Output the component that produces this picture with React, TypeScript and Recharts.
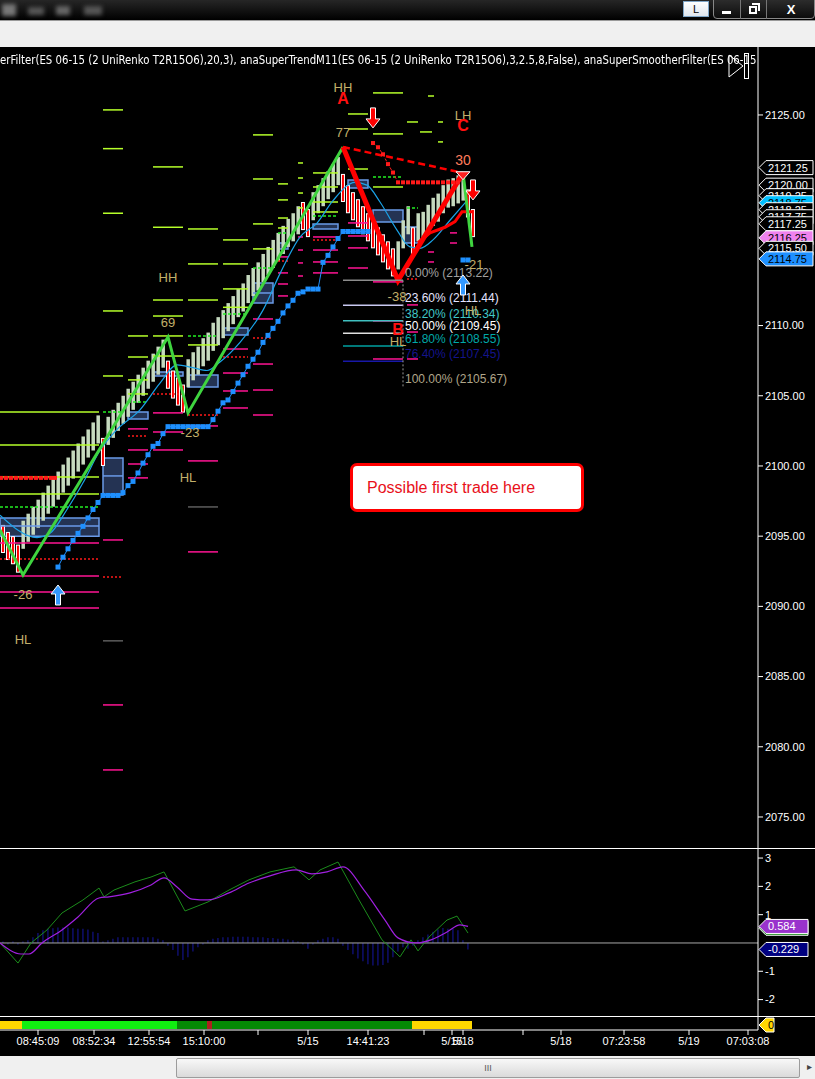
import React from "react";
import {
  ComposedChart,
  Bar,
  Line,
  Scatter,
  XAxis,
  YAxis,
  ReferenceLine,
  ReferenceArea,
} from "recharts";

// ---- axes ----
const X_DOMAIN: [number, number] = [-0.6, 151];
const PRICE_DOMAIN: [number, number] = [2072.79, 2129.84];
const PRICE_TICKS = [2075, 2080, 2085, 2090, 2095, 2100, 2105, 2110, 2125];
const OSC_DOMAIN: [number, number] = [-2.58, 3.32];
const OSC_TICKS = [3, 2, 1, -1, -2];

// ---- renko bricks (index = bar number) ----
const BRICK_DIRS = [
  "dddd",
  "uuuuuuuuuuuuuuuu",
  "d",
  "uuuuuuuuuuuu",
  "dddd",
  "uuuuuuuuuuuuuuuuuuuuuuu",
  "dd",
  "uuuuuu",
  "ddddddddddd",
  "uuu",
  "d",
  "uuuuuuuuuu",
  "dd",
].join("");

const BRICK_CLOSES = [
  2093.8, 2093.3, 2093.0, 2092.4, 2096.1, 2096.6, 2097.1, 2097.6, 2098.1, 2098.6,
  2099.1, 2099.6, 2100.1, 2100.6, 2101.1, 2101.6, 2102.1, 2102.6, 2103.1, 2103.6,
  2100.0, 2103.5, 2104.0, 2104.5, 2105.0, 2105.5, 2106.0, 2106.5, 2107.0, 2107.5,
  2108.0, 2108.5, 2109.0, 2105.5, 2104.8, 2104.3, 2103.8, 2107.6, 2108.1, 2108.5,
  2109.1, 2109.5, 2110.2, 2110.6, 2111.1, 2111.6, 2112.1, 2112.6, 2113.0, 2113.6,
  2114.1, 2114.5, 2115.1, 2115.6, 2116.1, 2116.6, 2117.1, 2117.6, 2118.0, 2118.5,
  2116.8, 2116.3, 2119.5, 2120.0, 2120.5, 2121.0, 2121.5, 2122.0, 2118.8, 2118.0,
  2117.5, 2117.0, 2116.5, 2116.0, 2115.5, 2115.0, 2114.5, 2114.0, 2113.5, 2116.0,
  2117.5, 2118.5, 2115.0, 2118.0, 2118.1, 2118.6, 2119.1, 2119.4, 2120.0, 2120.4,
  2120.5, 2120.7, 2120.9, 2117.7, 2116.3,
];
const BRICK_SIZE = 2;

// ---- zigzag ----
const ZIG_GREEN_A = [[-0.6, 2095.44], [4, 2092.24], [33, 2109.19], [37, 2103.78], [68, 2122.72]];
const ZIG_RED = [[68, 2122.72], [79, 2113.22], [92, 2120.87]];
const ZIG_GREEN_B = [[92, 2120.87], [93.8, 2115.6]];
const ZIG_AC = [[68, 2122.72], [92, 2120.87]];

// ---- super smoother ----
const SMOOTHER = [
  [-0.6, 2096.5], [6.8, 2094.9], [9.4, 2095.2], [12.8, 2096.9], [16, 2098.8], [19.4, 2101.1],
  [22.8, 2102.6], [27.4, 2104.0], [31.4, 2105.9], [34.8, 2107.2], [38, 2107.0], [40.8, 2106.8],
  [43.4, 2107.4], [47.4, 2108.8], [52, 2111.1], [55.4, 2113.7], [59.4, 2116.3], [62.8, 2117.3],
  [66, 2118.9], [70.4, 2120.2], [72.8, 2120.0], [75.4, 2118.8], [78.8, 2116.8], [81.4, 2115.6],
  [83.4, 2115.5], [86, 2116.1], [89.4, 2117.5], [92.8, 2118.9],
];
const RED_STEP = [[83, 2115.9], [85.4, 2116.6], [88.4, 2117.0], [90.4, 2117.4], [91.8, 2118.1], [94, 2118.1]];

// ---- super trend ----
const ST_BLUE = [
  [11, 2092.8], [12, 2093.5], [13, 2094.1], [14, 2094.7], [15, 2095.2], [16, 2095.7], [17, 2096.3],
  [18, 2096.9], [19, 2097.4], [20, 2097.9], [21, 2097.9], [22, 2097.9], [23, 2097.9], [24, 2098.1],
  [25, 2098.6], [26, 2098.9], [27, 2099.5], [28, 2100.2], [29, 2100.8], [30, 2101.4], [31, 2101.6],
  [32, 2102.3], [33, 2102.8], [34, 2102.8], [35, 2102.8], [36, 2102.8], [37, 2102.8], [38, 2102.8],
  [39, 2102.8], [40, 2102.8], [41, 2102.8], [42, 2103.3], [43, 2103.9], [44, 2104.5], [45, 2104.7],
  [46, 2105.3], [47, 2105.9], [48, 2106.5], [49, 2107.1], [50, 2107.6], [51, 2108.1], [52, 2108.8],
  [53, 2109.3], [54, 2109.8], [55, 2110.3], [56, 2110.9], [57, 2111.4], [58, 2111.8], [59, 2112.3],
  [60, 2112.4], [61, 2112.6], [62, 2112.6], [63, 2112.6], [64, 2114.5], [65, 2115.0], [66, 2115.6],
  [67, 2116.2], [68, 2116.7], [69, 2116.7], [70, 2116.7], [71, 2116.7], [72, 2116.7], [73, 2116.7],
];
const ST_BLUE_END = [[92, 2114.67], [93, 2114.67]];
const ST_RED = [
  [74, 2123.0], [75, 2122.7], [76, 2122.2], [77, 2121.5], [78, 2120.9], [79, 2120.2], [80, 2120.2],
  [81, 2120.2], [82, 2120.2], [83, 2120.2], [84, 2120.2], [85, 2120.2], [86, 2120.2], [87, 2120.2],
  [88, 2120.2], [89, 2120.2], [90, 2120.2], [91, 2120.2],
];
const ST_RED_LEFT = [
  [-0.4, 2099.15], [0.6, 2099.15], [1.6, 2099.15], [2.6, 2099.15], [3.6, 2099.15], [4.6, 2099.15],
  [5.6, 2099.15], [6.6, 2099.15], [7.6, 2099.15], [8.6, 2099.15], [9.6, 2099.15], [10.4, 2099.15],
];

// ---- level dashes [fromBar, toBar, price] ----
const LIME_LEVELS = [
  [-0.6, 19.2, 2103.85], [-0.6, 19.2, 2101.5], [-0.6, 19.2, 2099.22], [-0.6, 19.2, 2098.01],
  [20, 24, 2125.36], [20, 24, 2122.6], [20, 24, 2118.0], [20, 24, 2111.04], [20, 24, 2106.41],
  [25, 29, 2109.26], [25, 29, 2107.76], [25, 29, 2106.13], [25, 29, 2105.13],
  [30, 36, 2121.3], [30, 36, 2117.0], [30, 36, 2111.82], [30, 36, 2110.68], [30, 36, 2109.26], [30, 36, 2107.83],
  [37, 43, 2116.88], [37, 43, 2114.39], [37, 43, 2111.82], [37, 43, 2108.62],
  [44, 49, 2116.1], [44, 49, 2114.39], [44, 49, 2112.61], [44, 49, 2111.3],
  [50, 54, 2123.58], [50, 54, 2120.44], [50, 54, 2117.24], [50, 54, 2115.46],
  [55, 57, 2120.09], [55, 57, 2118.95], [55, 57, 2117.66], [55, 57, 2116.95],
  [59, 60, 2121.58], [59, 60, 2120.51], [59, 60, 2119.44], [59, 60, 2118.38],
  [62, 67, 2120.87], [62, 67, 2119.87], [62, 67, 2118.8], [62, 67, 2118.09],
  [69, 73, 2125.07], [69, 73, 2124.0], [69, 73, 2121.15],
  [74, 80, 2126.57], [74, 80, 2123.65], [74, 80, 2119.87],
  [80.8, 83, 2124.5], [83.4, 85.8, 2123.79], [85, 86.2, 2126.35], [87, 88, 2124.5], [87, 88, 2123.08],
];
const GREEN_DASH_LEVELS = [
  [-0.6, 19.2, 2097.08], [20, 24, 2103.85], [25, 29, 2104.56], [37, 43, 2109.26], [44, 49, 2110.83],
  [50, 54, 2114.1], [55, 57, 2116.6], [62, 67, 2117.81], [74, 80, 2120.58], [80.8, 83, 2118.38],
];
const MAGENTA_LEVELS = [
  [-0.6, 19.2, 2094.52], [-0.6, 19.2, 2092.17], [-0.6, 19.2, 2091.03], [-0.6, 19.2, 2089.89],
  [20, 24, 2094.73], [20, 24, 2082.98], [20, 24, 2078.35],
  [25, 29, 2102.64], [25, 29, 2101.14], [25, 29, 2100.14], [25, 29, 2099.15],
  [30, 36, 2103.78], [30, 36, 2102.42], [30, 36, 2101.14],
  [37, 43, 2102.85], [37, 43, 2100.36], [37, 43, 2093.88],
  [44, 49, 2108.33], [44, 49, 2106.62], [44, 49, 2105.34], [44, 49, 2104.13],
  [50, 54, 2110.47], [50, 54, 2107.26], [50, 54, 2105.41], [50, 54, 2103.63],
  [55, 57, 2114.89], [55, 57, 2113.75], [55, 57, 2112.96], [55, 57, 2112.11],
  [59, 60, 2116.31], [59, 60, 2115.38], [59, 60, 2114.46], [59, 60, 2113.53],
  [62, 67, 2116.31], [62, 67, 2115.38], [62, 67, 2114.53], [62, 67, 2113.75],
  [69, 73, 2117.31], [69, 73, 2116.38], [69, 73, 2115.53], [69, 73, 2114.1],
  [74, 80, 2113.11], [74, 80, 2110.33], [74, 80, 2107.62],
  [80.8, 83, 2111.47], [80.8, 83, 2109.54], [80.8, 83, 2107.62],
  [85, 86.2, 2115.24], [85, 86.2, 2114.53], [89.4, 90.8, 2116.6], [89.4, 90.8, 2115.88],
];
const RED_DASH_LEVELS = [
  [-0.6, 19.2, 2093.38], [20, 24, 2092.09], [25, 29, 2102.14], [30, 36, 2105.13], [37, 43, 2103.63],
  [44, 49, 2107.76], [50, 54, 2109.12], [55, 57, 2114.6], [62, 67, 2116.1], [80.8, 83, 2113.32],
];
const GREY_LEVELS = [[20, 24, 2087.54], [37, 43, 2097.08]];

// ---- zone boxes [fromBar, toBar, top, bottom, mid] ----
const BOXES = [
  [-0.6, 19.2, 2096.3, 2095.0, 2095.73],
  [20, 24, 2100.57, 2097.93, 2099.29],
  [25, 29, 2103.85, 2103.35, null],
  [30, 36, 2106.7, 2106.41, null],
  [37, 43, 2106.48, 2105.63, null],
  [44, 49, 2109.83, 2109.33, null],
  [50, 54, 2113.03, 2111.61, 2112.32],
  [55, 57, 2115.88, 2115.46, null],
  [59, 60, 2117.59, 2117.31, null],
  [62, 67, 2117.24, 2116.88, null],
  [69, 73, 2120.37, 2119.8, null],
  [74, 80, 2118.23, 2117.38, null],
  [80, 83, 2117.02, 2115.88, null],
];

// ---- fibonacci ----
const FIB_PCTS = ["0.00%", "23.60%", "38.20%", "50.00%", "61.80%", "76.40%", "100.00%"];
const FIB_PRICES = [2113.22, 2111.44, 2110.34, 2109.45, 2108.55, 2107.45, 2105.67];
const FIB_TEXT_COLORS = ["#a0a0a0", "#e4e4ff", "#40c8c8", "#ffffff", "#00a8a8", "#14148c", "#b0a68a"];
const FIB_LINE_COLORS = ["#8c8c8c", "#c8c8f0", "#40c0c0", "#e0e0e0", "#00a0a0", "#1818a8", null];

// ---- annotations ----
const SWING_TEXT = [
  { x: 68, y: 2126.92, text: "HH" }, { x: 68, y: 2123.72, text: "77" },
  { x: 92, y: 2124.93, text: "LH" },
  { x: 33, y: 2113.39, text: "HH" }, { x: 33, y: 2110.19, text: "69" },
  { x: 37.4, y: 2102.35, text: "-23" }, { x: 37, y: 2099.15, text: "HL" },
  { x: 4, y: 2090.81, text: "-26" }, { x: 4, y: 2087.61, text: "HL" },
  { x: 78.8, y: 2112.04, text: "-38" }, { x: 79, y: 2108.9, text: "HL" },
  { x: 94.2, y: 2114.32, text: "-21" }, { x: 94, y: 2111.1, text: "HL" },
];
const POINT_LETTERS = [
  { x: 68, y: 2126.14, text: "A" }, { x: 92, y: 2124.22, text: "C" }, { x: 79, y: 2109.69, text: "B" },
];
const SWING_COUNT_RED = [{ x: 92, y: 2121.79, text: "30" }];
const DOWN_ARROWS = [{ x: 74, y: 2124.79 }, { x: 94, y: 2119.66 }];
const UP_ARROWS = [{ x: 11, y: 2090.81 }, { x: 92, y: 2112.89 }];
const SELL_MARK = [{ x: 92, y: 2120.6 }];

// ---- right side price markers ----
const PRICE_FLAGS = [
  { v: 2121.25, fill: "#000", color: "#fff" },
  { v: 2120.0, fill: "#000", color: "#fff" },
  { v: 2119.25, fill: "#000", color: "#fff" },
  { v: 2118.75, fill: "#00bfff", color: "#000" },
  { v: 2118.25, fill: "#000", color: "#fff" },
  { v: 2117.75, fill: "#000", color: "#fff" },
  { v: 2117.25, fill: "#000", color: "#fff" },
  { v: 2116.25, fill: "#ee82ee", color: "#000" },
  { v: 2115.5, fill: "#000", color: "#fff" },
  { v: 2114.75, fill: "#1e90ff", color: "#000" },
];

// ---- oscillator ----
const OSC_GREEN = [
  [-0.6, 0], [3, -0.71], [5.6, 0], [8.8, 0.46], [11.8, 1.06], [16, 1.52], [19.2, 1.94], [20.2, 1.63],
  [22.2, 1.87], [26.4, 2.16], [29.6, 2.33], [32.2, 2.51], [36.4, 1.13], [41, 1.45], [45.2, 1.87],
  [49.2, 2.23], [53.4, 2.51], [58.2, 2.69], [61.2, 2.23], [63.4, 2.58], [67, 2.86], [71.2, 1.52],
  [75.8, 0.11], [79.4, -0.49], [81.6, 0.11], [83, -0.28], [85.2, 0.21], [88.8, 0.81], [90.8, 0.95],
  [93, 0.35],
];
const OSC_PURPLE = [
  [-0.6, 0], [3.6, -0.39], [5.2, -0.39], [7.8, 0], [11.8, 0.46], [15, 0.92], [19.2, 1.59], [21.2, 1.63],
  [25.4, 1.77], [29.6, 2.05], [32.2, 2.3], [34.8, 1.98], [37.8, 1.55], [41, 1.52], [45.2, 1.77],
  [49.2, 2.12], [53.4, 2.37], [58.6, 2.58], [61.8, 2.44], [64.8, 2.51], [68, 2.69], [72.2, 1.87],
  [76.4, 0.81], [79, 0.18], [82.6, 0], [85.6, 0.11], [88.8, 0.39], [91.4, 0.64], [93, 0.584],
];
const OSC_HIST = [
  0.05, -0.05, 0.05, -0.05, 0.05, 0.1, 0.2, 0.35, 0.45, 0.5,
  0.52, 0.55, 0.55, 0.55, 0.52, 0.5, 0.5, 0.48, 0.4, 0.35,
  0.05, 0.1, 0.15, 0.2, 0.2, 0.2, 0.2, 0.2, 0.2, 0.2,
  0.2, 0.15, 0.1, -0.1, -0.25, -0.45, -0.6, -0.5, -0.3, -0.15,
  -0.05, 0.1, 0.15, 0.18, 0.2, 0.2, 0.22, 0.22, 0.22, 0.22,
  0.2, 0.2, 0.2, 0.18, 0.18, 0.15, 0.15, 0.12, 0.1, 0.05,
  -0.05, -0.2, -0.05, 0.1, 0.15, 0.2, 0.2, 0.15, -0.1, -0.25,
  -0.4, -0.55, -0.65, -0.75, -0.8, -0.8, -0.78, -0.7, -0.5, -0.3,
  -0.15, -0.2, -0.1, 0.1, 0.2, 0.3, 0.4, 0.48, 0.53, 0.5,
  0.5, 0.45, 0.1, -0.229,
];
const OSC_FLAGS = [
  { v: 0.52, fill: "#008000", color: "#fff", label: "0.535" },
  { v: 0.584, fill: "#9932cc", color: "#fff", label: "0.584" },
  { v: -0.229, fill: "#000080", color: "#fff", label: "-0.229" },
];

// ---- state strip and time axis ----
const STRIP = [
  { from: -0.6, to: 3.8, color: "#ffd700" },
  { from: 3.8, to: 34.8, color: "#11ee11" },
  { from: 34.8, to: 40.8, color: "#058a05" },
  { from: 40.8, to: 41.8, color: "#b02020" },
  { from: 41.8, to: 81.8, color: "#058a05" },
  { from: 81.8, to: 93.8, color: "#ffd700" },
];
const TIME_TICKS = [7, 18.2, 29.2, 40.2, 51, 61, 73, 84.2, 89.8, 92, 104, 111.6, 124.2, 137.2, 149];
const TIME_LABELS = [
  "08:45:09", "08:52:34", "12:55:54", "15:10:00", "", "5/15", "14:41:23", "",
  "5/15", "5/18", "", "5/18", "07:23:58", "5/19", "07:03:08",
];

const INDICATOR_TEXT =
  "erFilter(ES 06-15 (2 UniRenko T2R15O6),20,3), anaSuperTrendM11(ES 06-15 (2 UniRenko T2R15O6),3,2.5,8,False), anaSuperSmootherFilter(ES 06-15";

// ---- helpers ----
const pts = (arr: number[][]) => arr.map(([x, y]) => ({ x, y }));
const bricks = BRICK_CLOSES.map((c, i) => {
  const up = BRICK_DIRS[i] === "u";
  return { x: i, up, body: up ? [c - BRICK_SIZE, c] : [c, c + BRICK_SIZE] };
});
const histRows = OSC_HIST.map((h, i) => ({ x: i, h }));
const fibRows = FIB_PRICES.map((p, i) => ({ x: 80.4, y: p, text: `${FIB_PCTS[i]} (${p.toFixed(2)})`, i }));

const FONT = "Arial, 'Liberation Sans', sans-serif";

const brickShape = (p: any) => {
  if (p.x == null || p.height == null) return <g />;
  const cx = p.x + p.width / 2;
  const top = Math.min(p.y, p.y + p.height);
  const h = Math.abs(p.height);
  if (p.payload.up) {
    return <rect x={cx - 1.5} y={top} width={3.5} height={h} fill="#c6dabf" />;
  }
  return (
    <g>
      <rect x={cx - 2} y={top} width={4} height={h} fill="#ffffff" />
      <rect x={cx - 1} y={top + 1} width={2} height={Math.max(h - 2, 0)} fill="#ff0000" />
    </g>
  );
};

const textShape = (color: string, size: number, bold = false) => (p: any) =>
  p.cx == null ? <g /> : (
    <text
      x={p.cx}
      y={p.cy}
      fill={color}
      fontSize={size}
      fontWeight={bold ? "bold" : "normal"}
      fontFamily={FONT}
      textAnchor="middle"
      dominantBaseline="central"
    >
      {p.payload.text}
    </text>
  );

const fibTextShape = (p: any) =>
  p.cx == null ? <g /> : (
    <text x={p.cx} y={p.cy - 3} fill={FIB_TEXT_COLORS[p.payload.i]} fontSize={12} fontFamily={FONT}>
      {p.payload.text}
    </text>
  );

const downArrow = (p: any) => {
  const { cx: x, cy: y } = p;
  if (x == null) return <g />;
  const d = `M${x - 2.5},${y - 10} L${x + 2.5},${y - 10} L${x + 2.5},${y + 1} L${x + 7},${y + 1} L${x},${y + 10} L${x - 7},${y + 1} L${x - 2.5},${y + 1} Z`;
  return <path d={d} fill="#ff0000" stroke="#ffffff" strokeWidth={1} />;
};
const upArrow = (p: any) => {
  const { cx: x, cy: y } = p;
  if (x == null) return <g />;
  const d = `M${x - 2.5},${y + 10} L${x + 2.5},${y + 10} L${x + 2.5},${y - 1} L${x + 7},${y - 1} L${x},${y - 10} L${x - 7},${y - 1} L${x - 2.5},${y - 1} Z`;
  return <path d={d} fill="#3399ff" stroke="#ffffff" strokeWidth={1} />;
};
const sellMark = (p: any) =>
  p.cx == null ? <g /> : (
    <path
      d={`M${p.cx - 7},${p.cy - 5} L${p.cx + 7},${p.cy - 5} L${p.cx},${p.cy + 3} Z`}
      fill="#ff2020"
      stroke="#ffffff"
      strokeWidth={1}
    />
  );

const squareDot = (color: string, size = 5) => (p: any) =>
  p.cx == null ? <g key={p.index} /> : (
    <rect key={p.index} x={p.cx - size / 2} y={p.cy - size / 2} width={size} height={size} fill={color} />
  );

const flagLabel = (text: string, fill: string, color: string, w = 55) => (props: any) => {
  const vb = props.viewBox || {};
  const x = (vb.x || 0) + (vb.width || 0);
  const y = vb.y || 0;
  return (
    <g>
      <polygon
        points={`${x + 1},${y} ${x + 8},${y - 7} ${x + w},${y - 7} ${x + w},${y + 7} ${x + 8},${y + 7}`}
        fill={fill}
        stroke="#ffffff"
        strokeWidth={1}
      />
      <text x={x + 10} y={y + 4} fill={color} fontSize={11} fontFamily={FONT}>
        {text}
      </text>
    </g>
  );
};

const levelLines = (arr: number[][], color: string, dash: string | undefined, key: string, width = 1.5) =>
  arr.map(([x1, x2, p], k) => (
    <ReferenceLine
      key={`${key}-${k}`}
      segment={[{ x: x1, y: p }, { x: x2, y: p }]}
      stroke={color}
      strokeWidth={width}
      strokeDasharray={dash}
      ifOverflow="visible"
    />
  ));

export default function App() {
  return (
    <div
      style={{
        position: "fixed",
        left: 0,
        top: 0,
        width: 815,
        height: 1079,
        background: "#000",
        overflow: "hidden",
        fontFamily: FONT,
      }}
    >
      {/* window title bar */}
      <div style={{ position: "absolute", left: 0, top: 0, width: 815, height: 20, background: "linear-gradient(#262626, #000)" }} />
      <div style={{ position: "absolute", left: 2, top: 4, width: 108, height: 12, filter: "blur(2px)" }}>
        <div style={{ position: "absolute", left: 0, top: 0, width: 14, height: 12, background: "#777" }} />
        <div style={{ position: "absolute", left: 26, top: 3, width: 16, height: 8, background: "#555" }} />
        <div style={{ position: "absolute", left: 54, top: 2, width: 14, height: 9, background: "#666" }} />
        <div style={{ position: "absolute", left: 82, top: 2, width: 18, height: 9, background: "#555" }} />
      </div>
      <div
        style={{
          position: "absolute", left: 683, top: 1, width: 26, height: 16, background: "linear-gradient(#ffffff, #dfe6ee)",
          border: "1px solid #7fa6c8", boxSizing: "border-box", fontSize: 11, lineHeight: "14px", textAlign: "center", color: "#000",
        }}
      >
        L
      </div>
      <div
        style={{
          position: "absolute", left: 713, top: -1, width: 102, height: 20, border: "1px solid #888", boxSizing: "border-box",
          borderRadius: "0 0 4px 4px", background: "linear-gradient(#2c2c2c, #0c0c0c)",
        }}
      >
        <div style={{ position: "absolute", left: 8, top: 11, width: 9, height: 3, background: "#fff" }} />
        <div style={{ position: "absolute", left: 26, top: 0, width: 1, height: 19, background: "#777" }} />
        <div style={{ position: "absolute", left: 35, top: 6, width: 8, height: 8, border: "2px solid #fff", boxSizing: "border-box" }} />
        <div style={{ position: "absolute", left: 38, top: 3, width: 8, height: 8, borderTop: "2px solid #fff", borderRight: "2px solid #fff", boxSizing: "border-box" }} />
        <div style={{ position: "absolute", left: 52, top: 0, width: 1, height: 19, background: "#777" }} />
        <div style={{ position: "absolute", left: 53, top: 0, width: 48, height: 19, color: "#fff", fontWeight: "bold", fontSize: 13, lineHeight: "19px", textAlign: "center" }}>
          X
        </div>
      </div>
      {/* toolbar */}
      <div style={{ position: "absolute", left: 0, top: 20, width: 815, height: 27, background: "#f0f0f0", borderTop: "1px solid #9a9a9a", boxSizing: "border-box" }} />

      {/* indicator caption */}
      <div
        style={{
          position: "absolute", left: 0, top: 53, whiteSpace: "nowrap", color: "#fff",
          fontSize: 12, lineHeight: "14px", transform: "scaleX(0.94)", transformOrigin: "0 0",
          fontFamily: "'Liberation Sans Narrow', 'Arial Narrow', 'DejaVu Sans Condensed', sans-serif",
        }}
      >
        {INDICATOR_TEXT}
      </div>
      <svg style={{ position: "absolute", left: 727, top: 52 }} width={26} height={28}>
        <polygon points="2,3 16,14 2,25" fill="none" stroke="#fff" strokeWidth={1} />
        <rect x={17.5} y={1.5} width={4} height={25} fill="none" stroke="#fff" strokeWidth={1} />
      </svg>
      <div style={{ position: "absolute", left: 757, top: 47, width: 58, height: 30, background: "#000" }} />

      {/* price panel */}
      <div style={{ position: "absolute", left: 0, top: 47 }}>
        <ComposedChart width={815} height={801} data={bricks} margin={{ top: 0, right: 0, bottom: 0, left: 0 }}>
          <XAxis dataKey="x" type="number" domain={X_DOMAIN} allowDataOverflow hide />
          <YAxis
            orientation="right"
            width={57}
            domain={PRICE_DOMAIN}
            allowDataOverflow
            ticks={PRICE_TICKS}
            interval={0}
            tickFormatter={(v: number) => v.toFixed(2)}
            stroke="#ffffff"
            tickSize={5}
            tick={{ fill: "#ffffff", fontSize: 11, fontFamily: FONT }}
          />
          {levelLines(GREY_LEVELS, "#8a8a8a", undefined, "grey", 1)}
          {levelLines(LIME_LEVELS, "#b6ff2a", undefined, "lime")}
          {levelLines(GREEN_DASH_LEVELS, "#22ee22", "3 2", "gd")}
          {levelLines(MAGENTA_LEVELS, "#ff1493", undefined, "mag")}
          {levelLines(RED_DASH_LEVELS, "#ff1a1a", "2 2", "rd")}
          {BOXES.map(([x1, x2, top, bottom], k) => (
            <ReferenceArea
              key={`box-${k}`}
              x1={x1 as number}
              x2={x2 as number}
              y1={bottom as number}
              y2={top as number}
              fill="#2a3c62"
              fillOpacity={0.85}
              stroke="#6a9ae8"
              strokeWidth={1.5}
              ifOverflow="visible"
            />
          ))}
          {BOXES.filter((b) => b[4] != null).map(([x1, x2, , , mid], k) => (
            <ReferenceLine
              key={`boxmid-${k}`}
              segment={[{ x: x1 as number, y: mid as number }, { x: x2 as number, y: mid as number }]}
              stroke="#6a9ae8"
              strokeWidth={1.5}
              ifOverflow="visible"
            />
          ))}
          <Bar dataKey="body" barSize={4} shape={brickShape} isAnimationActive={false} />
          <Line data={pts(SMOOTHER)} dataKey="y" type="monotone" stroke="#1aa3e8" strokeWidth={1.2} dot={false} activeDot={false} isAnimationActive={false} />
          <Line data={pts(ST_BLUE)} dataKey="y" stroke="#1e90ff" strokeWidth={1} dot={squareDot("#1e90ff")} activeDot={false} isAnimationActive={false} />
          <Line data={pts(ST_BLUE_END)} dataKey="y" stroke="#1e90ff" strokeWidth={1} dot={squareDot("#1e90ff")} activeDot={false} isAnimationActive={false} />
          <Line data={pts(ST_RED)} dataKey="y" stroke="#ff1a1a" strokeWidth={1} strokeDasharray="3 2" dot={squareDot("#ff1a1a", 4)} activeDot={false} isAnimationActive={false} />
          <Line data={pts(ST_RED_LEFT)} dataKey="y" stroke="#ff1a1a" strokeWidth={1} dot={squareDot("#ff1a1a", 4)} activeDot={false} isAnimationActive={false} />
          <Line data={pts(RED_STEP)} dataKey="y" stroke="#ff0000" strokeWidth={3} dot={false} activeDot={false} isAnimationActive={false} />
          <Line data={pts(ZIG_AC)} dataKey="y" stroke="#ff0000" strokeWidth={2.5} strokeDasharray="7 4" dot={false} activeDot={false} isAnimationActive={false} />
          <Line data={pts(ZIG_GREEN_A)} dataKey="y" stroke="#3fd43f" strokeWidth={3} dot={false} activeDot={false} isAnimationActive={false} />
          <Line data={pts(ZIG_GREEN_B)} dataKey="y" stroke="#3fd43f" strokeWidth={3} dot={false} activeDot={false} isAnimationActive={false} />
          <Line data={pts(ZIG_RED)} dataKey="y" stroke="#ff0000" strokeWidth={5} dot={false} activeDot={false} isAnimationActive={false} />
          {FIB_PRICES.map((p, i) =>
            FIB_LINE_COLORS[i] ? (
              <ReferenceLine
                key={`fib-${i}`}
                segment={[{ x: 68, y: p }, { x: 80, y: p }]}
                stroke={FIB_LINE_COLORS[i] as string}
                strokeWidth={1.5}
                ifOverflow="visible"
              />
            ) : null
          )}
          <ReferenceLine
            segment={[{ x: 80, y: FIB_PRICES[0] }, { x: 80, y: FIB_PRICES[6] }]}
            stroke="#9a9a9a"
            strokeDasharray="2 2"
            ifOverflow="visible"
          />
          <Scatter data={fibRows} dataKey="y" shape={fibTextShape} isAnimationActive={false} />
          <Scatter data={SWING_TEXT} dataKey="y" shape={textShape("#c2b06a", 13)} isAnimationActive={false} />
          <Scatter data={SWING_COUNT_RED} dataKey="y" shape={textShape("#ff7c5c", 14)} isAnimationActive={false} />
          <Scatter data={POINT_LETTERS} dataKey="y" shape={textShape("#ff1010", 16, true)} isAnimationActive={false} />
          <Scatter data={DOWN_ARROWS} dataKey="y" shape={downArrow} isAnimationActive={false} />
          <Scatter data={UP_ARROWS} dataKey="y" shape={upArrow} isAnimationActive={false} />
          <Scatter data={SELL_MARK} dataKey="y" shape={sellMark} isAnimationActive={false} />
          {PRICE_FLAGS.map((f, k) => (
            <ReferenceLine
              key={`flag-${k}`}
              y={f.v}
              stroke="none"
              label={flagLabel(f.v.toFixed(2), f.fill, f.color)}
            />
          ))}
        </ComposedChart>
      </div>

      {/* trade note */}
      <div
        style={{
          position: "absolute", left: 350, top: 463, width: 234, height: 49, boxSizing: "border-box", border: "3px solid #ff0000",
          borderRadius: 7, background: "#ffffff", color: "#e8101a", fontSize: 16, lineHeight: "43px", paddingLeft: 14,
          whiteSpace: "nowrap", fontFamily: FONT,
        }}
      >
        Possible first trade here
      </div>

      <div style={{ position: "absolute", left: 0, top: 848, width: 815, height: 1, background: "#ffffff" }} />

      {/* oscillator panel */}
      <div style={{ position: "absolute", left: 0, top: 849 }}>
        <ComposedChart width={815} height={167} data={histRows} margin={{ top: 0, right: 0, bottom: 0, left: 0 }}>
          <XAxis dataKey="x" type="number" domain={X_DOMAIN} allowDataOverflow hide />
          <YAxis
            orientation="right"
            width={57}
            domain={OSC_DOMAIN}
            allowDataOverflow
            ticks={OSC_TICKS}
            interval={0}
            stroke="#ffffff"
            tickSize={5}
            tick={{ fill: "#ffffff", fontSize: 11, fontFamily: FONT }}
          />
          <Bar dataKey="h" barSize={2} fill="#1818b4" isAnimationActive={false} />
          <ReferenceLine y={0} stroke="#a8a8a8" strokeWidth={1} />
          <Line data={pts(OSC_GREEN)} dataKey="y" stroke="#1c8c1c" strokeWidth={1} dot={false} activeDot={false} isAnimationActive={false} />
          <Line data={pts(OSC_PURPLE)} dataKey="y" type="monotone" stroke="#a020e0" strokeWidth={1.2} dot={false} activeDot={false} isAnimationActive={false} />
          {OSC_FLAGS.map((f, k) => (
            <ReferenceLine key={`oflag-${k}`} y={f.v} stroke="none" label={flagLabel(f.label, f.fill, f.color, 50)} />
          ))}
        </ComposedChart>
      </div>

      <div style={{ position: "absolute", left: 0, top: 1016, width: 815, height: 1, background: "#ffffff" }} />

      {/* state strip + time axis */}
      <div style={{ position: "absolute", left: 0, top: 1017 }}>
        <ComposedChart width={815} height={39} data={[{ x: X_DOMAIN[0] }, { x: X_DOMAIN[1] }]} margin={{ top: 0, right: 0, bottom: 0, left: 0 }}>
          <XAxis
            dataKey="x"
            type="number"
            domain={X_DOMAIN}
            allowDataOverflow
            ticks={TIME_TICKS}
            interval={0}
            tickFormatter={(v: number) => TIME_LABELS[TIME_TICKS.indexOf(v)] || ""}
            stroke="#ffffff"
            tickSize={5}
            height={26}
            tick={{ fill: "#ffffff", fontSize: 11, fontFamily: FONT }}
          />
          <YAxis orientation="right" width={57} domain={[0, 13]} allowDataOverflow ticks={[]} stroke="#ffffff" />
          {STRIP.map((s, k) => (
            <ReferenceArea key={`strip-${k}`} x1={s.from} x2={s.to} y1={1} y2={9} fill={s.color} fillOpacity={1} stroke="none" />
          ))}
          <ReferenceLine y={5} stroke="none" label={flagLabel("0", "#ffd700", "#000", 16)} />
          <Line dataKey="y" stroke="none" dot={false} isAnimationActive={false} />
        </ComposedChart>
      </div>

      {/* scrollbar */}
      <div style={{ position: "absolute", left: 0, top: 1056, width: 815, height: 23, background: "#f0f0f0" }} />
      <div
        style={{
          position: "absolute", left: 176, top: 1058, width: 624, height: 20, boxSizing: "border-box", border: "1px solid #9c9c9c",
          borderRadius: 2, background: "linear-gradient(#f8f8f8, #dadada)", textAlign: "center", fontSize: 9, lineHeight: "18px", color: "#555",
        }}
      >
        III
      </div>
      <div style={{ position: "absolute", left: 807, top: 1061, fontSize: 10, color: "#444" }}>▸</div>
    </div>
  );
}
